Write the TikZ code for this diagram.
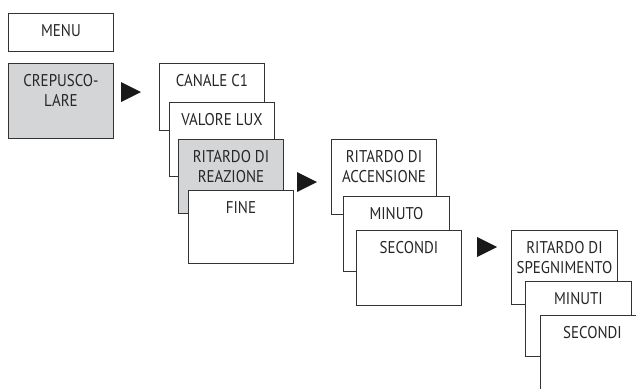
\documentclass[tikz,border=0pt]{standalone}
\usepackage{fontspec}
\setmainfont[FakeStretch=0.88]{PT Sans}
\definecolor{boxgray}{HTML}{D4D5D6}
\definecolor{edge}{HTML}{333333}
\begin{document}
\begin{tikzpicture}[x=1pt,y=-1pt,
  card/.style={draw=edge, line width=0.9pt, fill=white, rectangle, inner sep=0pt, anchor=north west},
  grey/.style={fill=boxgray},
  lbl/.style={inner sep=0pt, anchor=north, align=center, text=black!85, font=\fontsize{17}{20.5}\selectfont},
  tri/.style={fill=black!90, draw=none}]
\useasboundingbox (0,0) rectangle (636,388);
\clip (0,0) rectangle (636,388);
\newcommand{\card}[7]{%
  \node[card,#6, minimum width=#4pt-#2pt, minimum height=#5pt-#3pt] (#1) at (#2,#3) {};
  \node[lbl] (#1t) at ([yshift=-11pt]#1.north) {#7};}
\newcommand{\tria}[4]{%
  \fill[tri] (#2,#3) coordinate (#1a) -- (#2,#4) coordinate (#1b) -- ({#2+20},{(#3+#4)/2}) coordinate (#1c) -- cycle;}

\card{menu}{8}{13}{113}{51}{}{MENU}
\card{crep}{8}{63}{113}{138}{grey}{CREPUSCO-\\LARE}
\tria{ta}{121}{82}{102}

\card{canale}{159}{63}{264}{130}{}{CANALE C1}
\card{valore}{169}{102}{274}{176}{}{VALORE LUX}
\card{reaz}{178}{139}{283}{213}{grey}{RITARDO DI\\REAZIONE}
\card{fine}{188}{190}{293}{263}{}{FINE}
\tria{tb}{297}{172}{192}

\card{accens}{331}{139}{436}{214}{}{RITARDO DI\\ACCENSIONE}
\card{minuto}{343}{196}{449}{271}{}{MINUTO}
\card{secA}{356}{230}{461}{305}{}{SECONDI}
\tria{tc}{477}{237}{257}

\card{speg}{511}{230}{617}{304}{}{RITARDO DI\\SPEGNIMENTO}
\card{minuti}{525}{281}{631}{356}{}{MINUTI}
\node[card, minimum width=110pt, minimum height=85pt] (secB) at (540,315) {};
\node[lbl] (secBt) at (592.5,326) {SECONDI};
\end{tikzpicture}
\end{document}
